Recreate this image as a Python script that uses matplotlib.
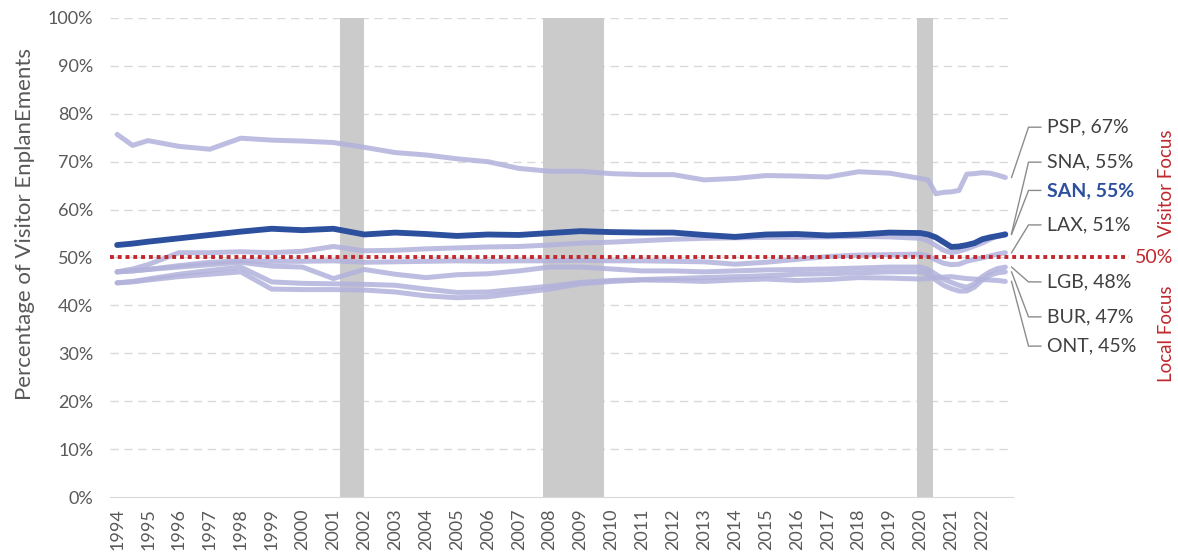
import matplotlib
matplotlib.use("Agg")
import matplotlib.pyplot as plt

# shared time axis (yearly, then quarterly from 2020)
years = [1994, 1994.5, 1995, 1996, 1997, 1998, 1999, 2000, 2001, 2002, 2003, 2004, 2005, 2006,
         2007, 2008, 2009, 2010, 2011, 2012, 2013, 2014, 2015, 2016, 2017, 2018, 2019,
         2020, 2020.25, 2020.5, 2020.75, 2021.0, 2021.25, 2021.5, 2021.75, 2022.0,
         2022.25, 2022.5, 2022.75]

psp = [75.7, 73.4, 74.4, 73.2, 72.6, 74.9, 74.5, 74.3, 74.0, 73.0, 71.9, 71.4, 70.6, 70.0,
       68.6, 68.0, 68.0, 67.5, 67.3, 67.3, 66.2, 66.5, 67.1, 67.0, 66.8, 67.9, 67.6,
       66.5, 66.2, 63.3, 63.6, 63.7, 64.0, 67.4, 67.5, 67.7, 67.6, 67.2, 66.7]
san = [52.6, 52.9, 53.3, 54.0, 54.7, 55.4, 56.0, 55.7, 56.0, 54.8, 55.2, 54.9, 54.5, 54.8,
       54.7, 55.1, 55.5, 55.3, 55.2, 55.2, 54.7, 54.3, 54.8, 54.9, 54.6, 54.8, 55.2,
       55.1, 54.8, 54.2, 53.2, 52.2, 52.3, 52.6, 53.0, 53.8, 54.2, 54.5, 54.8]
sna = [47.0, 47.6, 48.5, 51.0, 51.0, 51.2, 51.0, 51.3, 52.3, 51.4, 51.5, 51.8, 52.0, 52.2,
       52.3, 52.6, 53.0, 53.2, 53.5, 53.8, 54.0, 54.1, 54.2, 54.2, 54.3, 54.4, 54.3,
       54.0, 53.5, 52.5, 51.5, 51.0, 51.3, 51.8, 52.4, 53.0, 53.8, 54.5, 55.0]
lax = [47.0, 47.2, 47.5, 48.3, 49.0, 49.3, 49.2, 49.2, 49.3, 49.0, 49.1, 49.2, 49.3, 49.2,
       49.3, 49.3, 49.4, 49.3, 49.3, 49.2, 49.1, 48.6, 49.0, 49.6, 50.2, 50.5, 50.6,
       50.7, 50.3, 49.5, 48.8, 48.5, 48.6, 49.2, 49.6, 49.9, 50.3, 50.7, 51.0]
lgb = [47.0, 47.2, 47.5, 48.0, 48.5, 49.0, 48.2, 48.0, 45.6, 47.5, 46.5, 45.8, 46.4, 46.6,
       47.2, 48.0, 48.0, 47.6, 47.2, 47.2, 47.0, 47.2, 47.4, 47.5, 47.6, 47.8, 48.0,
       48.0, 47.5, 46.5, 45.5, 44.8, 44.2, 43.8, 44.5, 46.0, 47.0, 47.7, 48.0]
bur = [44.7, 45.0, 45.5, 46.5, 47.3, 48.0, 44.9, 44.6, 44.5, 44.4, 44.2, 43.4, 42.7, 42.8,
       43.4, 44.0, 44.8, 45.2, 45.4, 45.6, 45.8, 46.0, 46.2, 46.5, 46.6, 46.8, 47.0,
       47.0, 46.5, 45.3, 44.2, 43.5, 43.0, 43.0, 43.8, 45.3, 46.3, 46.8, 47.0]
ont = [44.7, 44.9, 45.3, 46.0, 46.5, 47.0, 43.4, 43.3, 43.3, 43.2, 42.8, 42.0, 41.6, 41.8,
       42.6, 43.4, 44.5, 45.0, 45.3, 45.2, 45.0, 45.3, 45.5, 45.2, 45.4, 45.8, 45.7,
       45.5, 45.6, 45.8, 45.9, 46.0, 45.8, 45.6, 45.5, 45.4, 45.3, 45.2, 45.0]

labels = ["PSP, 67%", "SNA, 55%", "SAN, 55%", "LAX, 51%", "LGB, 48%", "BUR, 47%", "ONT, 45%"]
label_series = [psp, sna, san, lax, lgb, bur, ont]
label_y = [77.2, 69.9, 64.0, 56.8, 44.9, 37.6, 31.5]

recessions = [(2001.2, 2002.0), (2007.8, 2009.75), (2019.9, 2020.4)]
year_ticks = list(range(1994, 2023))
pct_ticks = list(range(0, 101, 10))

plt.rcParams['font.family'] = ['Lato', 'DejaVu Sans']

light = '#b2b2dc'
dark = '#2c4f9e'
red = '#c0282d'
grey_txt = '#595959'

fig = plt.figure(figsize=(11.78, 5.6), dpi=100)
ax = fig.add_axes([0.0934, 0.1125, 0.7666, 0.8554])

xmin, xmax = 1993.77, 2023.0
ax.set_xlim(xmin, xmax)
ax.set_ylim(0, 100)

for a, b in recessions:
    ax.axvspan(a, b, color='#cbcbcb', lw=0, zorder=1)

for p in pct_ticks[1:]:
    ax.axhline(p, color='#d9d9d9', lw=1, ls=(0, (6, 4)), zorder=0.5)

for s in [psp, sna, lax, lgb, bur, ont]:
    ax.plot(years, s, color=light, lw=3.6, alpha=0.85, solid_capstyle='round', zorder=2)
ax.plot(years, san, color=dark, lw=4.2, solid_capstyle='round', zorder=3)

# 50% threshold line, runs out past the plot
ax.plot([xmin, 2026.75], [50, 50], color=red, lw=2.8, ls=(0, (1, 1)),
        dash_capstyle='butt', clip_on=False, zorder=4)
ax.text(2026.95, 50, "50%", color=red, fontsize=14, va='center', ha='left')
ax.text(2027.95, 65.5, "Visitor Focus", color=red, fontsize=13.5, rotation=90,
        va='center', ha='center')
ax.text(2027.95, 34, "Local Focus", color=red, fontsize=13.5, rotation=90,
        va='center', ha='center')

# leader lines and end labels
for name, s, ly in zip(labels, label_series, label_y):
    ax.plot([years[-1] + 0.2, 2023.5, 2023.9], [s[-1], ly, ly], color='#8c8c8c', lw=1,
            clip_on=False, zorder=2)
    if name.startswith("SAN"):
        ax.text(2024.1, ly, name, color=dark, fontsize=14, fontweight='bold', va='center')
    else:
        ax.text(2024.1, ly, name, color='#404040', fontsize=14, va='center')

ax.set_xticks(year_ticks)
ax.set_xticklabels([str(y) for y in year_ticks], rotation=90, color=grey_txt, fontsize=13)
ax.set_yticks(pct_ticks)
ax.set_yticklabels([f"{p}%" for p in pct_ticks], color=grey_txt, fontsize=13)
ax.tick_params(length=0)
ax.tick_params(axis='y', pad=12)
ax.tick_params(axis='x', pad=8)

for side in ['top', 'right', 'left']:
    ax.spines[side].set_visible(False)
ax.spines['bottom'].set_color('#d9d9d9')

fig.text(0.021, 0.6, "Percentage of Visitor EnplanEments", rotation=90, color=grey_txt,
         fontsize=16, va='center', ha='center')

fig.savefig("out.png", dpi=100)
